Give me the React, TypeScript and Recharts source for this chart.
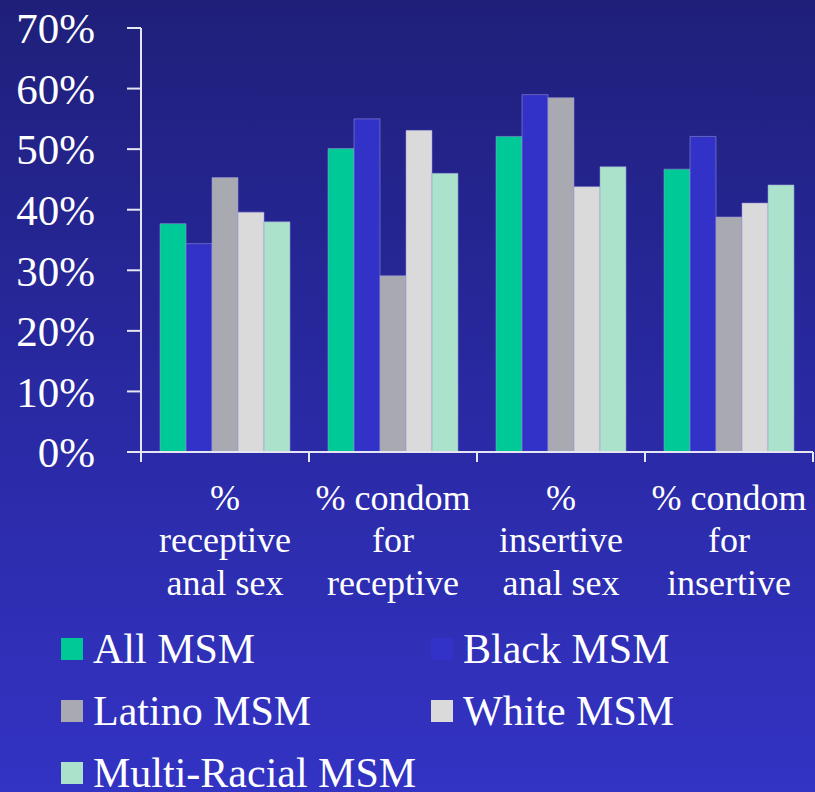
import React from 'react';
import { BarChart, Bar, XAxis, YAxis, Legend } from 'recharts';

const categories = ['% receptive anal sex', '% condom for receptive', '% insertive anal sex', '% condom for insertive'];
const categoryLines = [
  ['%', 'receptive', 'anal sex'],
  ['% condom', 'for', 'receptive'],
  ['%', 'insertive', 'anal sex'],
  ['% condom', 'for', 'insertive'],
];

const allMsm = [37.7, 50.1, 52.1, 46.7];
const blackMsm = [34.4, 55.0, 59.0, 52.1];
const latinoMsm = [45.3, 29.1, 58.5, 38.8];
const whiteMsm = [39.6, 53.1, 43.8, 41.1];
const multiRacialMsm = [38.0, 46.0, 47.1, 44.1];

const yTicks = [0, 10, 20, 30, 40, 50, 60, 70];

const series = [
  { key: 'all', name: 'All MSM', values: allMsm, color: '#00c998' },
  { key: 'black', name: 'Black MSM', values: blackMsm, color: '#3232c8' },
  { key: 'latino', name: 'Latino MSM', values: latinoMsm, color: '#a9a9b1' },
  { key: 'white', name: 'White MSM', values: whiteMsm, color: '#dadada' },
  { key: 'multi', name: 'Multi-Racial MSM', values: multiRacialMsm, color: '#aae2cb' },
];

const data = categories.map((c, i) => {
  const row: Record<string, string | number> = { category: c, idx: i };
  series.forEach((s) => {
    row[s.key] = s.values[i];
  });
  return row;
});

const WIDTH = 815;
const HEIGHT = 792;
const PLOT_LEFT = 141;
const PLOT_RIGHT = 813;
const BAND = (PLOT_RIGHT - PLOT_LEFT) / categories.length;
const FONT = '"Liberation Serif", "Times New Roman", serif';
const AXIS = '#e6e6f2';

// category label split over three lines, with tick marks on the band edges
const CategoryTick = (props: any) => {
  const { x, y, payload, index } = props;
  const lines = categoryLines[index] ?? [String(payload.value)];
  const left = x - BAND / 2;
  const right = x + BAND / 2;
  return (
    <g>
      <line x1={left} y1={y} x2={left} y2={y + 10} stroke={AXIS} strokeWidth={2} />
      {index === categories.length - 1 && (
        <line x1={right} y1={y} x2={right} y2={y + 10} stroke={AXIS} strokeWidth={2} />
      )}
      {lines.map((l, i) => (
        <text
          key={i}
          x={x}
          y={y + 45 + i * 42.5}
          dy="0.35em"
          textAnchor="middle"
          fill="#ffffff"
          fontSize={36}
          fontFamily={FONT}
        >
          {l}
        </text>
      ))}
    </g>
  );
};

const LegendContent = () => (
  <div
    style={{
      display: 'grid',
      gridTemplateColumns: '370px 370px',
      rowGap: 0,
      paddingLeft: 61,
    }}
  >
    {series.map((s) => (
      <div key={s.key} style={{ display: 'flex', alignItems: 'center', height: 62 }}>
        <span style={{ width: 22, height: 22, background: s.color, display: 'inline-block', marginRight: 10 }} />
        <span style={{ color: '#ffffff', fontSize: 42, fontFamily: FONT, lineHeight: 1 }}>{s.name}</span>
      </div>
    ))}
  </div>
);

export default function App() {
  return (
    <div
      style={{
        position: 'absolute',
        left: 0,
        top: 0,
        width: WIDTH,
        height: HEIGHT,
        background: 'linear-gradient(to bottom, #1f1f7a 0%, #2a2aa6 55%, #3333c4 100%)',
      }}
    >
      <BarChart
        width={WIDTH}
        height={HEIGHT}
        data={data}
        margin={{ top: 28, right: WIDTH - PLOT_RIGHT, left: 0, bottom: 200 }}
        barCategoryGap={19}
        barGap={0}
      >
        <YAxis
          width={PLOT_LEFT}
          domain={[0, 70]}
          ticks={yTicks}
          interval={0}
          tickFormatter={(v: number) => `${v}%`}
          tickSize={14}
          tickMargin={32}
          axisLine={{ stroke: AXIS, strokeWidth: 2 }}
          tickLine={{ stroke: AXIS, strokeWidth: 2 }}
          tick={{ fill: '#ffffff', fontSize: 43, fontFamily: FONT }}
        />
        <XAxis
          dataKey="category"
          height={140}
          interval={0}
          tickSize={0}
          tickMargin={0}
          tickLine={false}
          axisLine={{ stroke: AXIS, strokeWidth: 2 }}
          tick={<CategoryTick />}
        />
        <Legend
          layout="horizontal"
          verticalAlign="middle"
          align="center"
          wrapperStyle={{ left: 0, top: 618, width: WIDTH }}
          content={<LegendContent />}
        />
        {series.map((s) => (
          <Bar
            key={s.key}
            dataKey={s.key}
            name={s.name}
            fill={s.color}
            stroke="rgba(150,150,215,0.55)"
            strokeWidth={1}
            isAnimationActive={false}
          />
        ))}
      </BarChart>
    </div>
  );
}
